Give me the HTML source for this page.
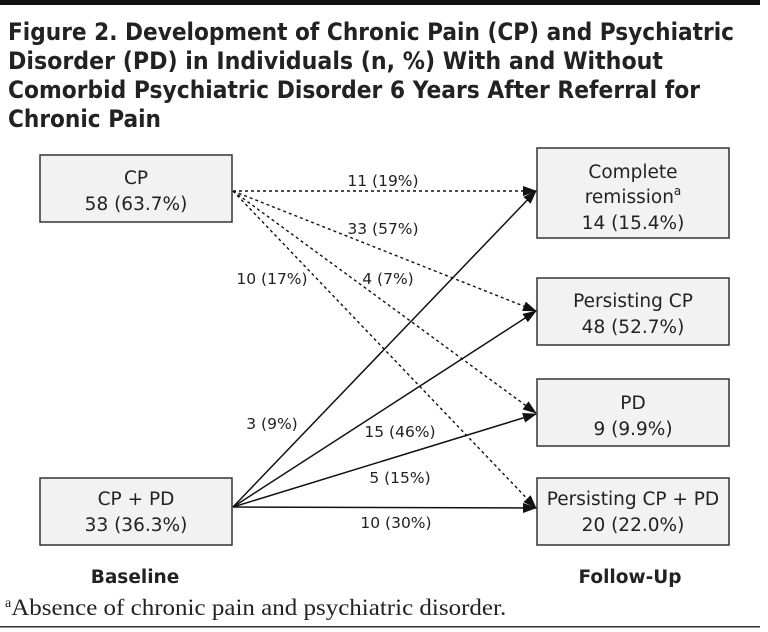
<!DOCTYPE html>
<html><head><style>
html,body{margin:0;padding:0;background:#fff;}
svg{display:block;}
</style></head><body>
<svg width="768" height="632" viewBox="0 0 768 632" xmlns="http://www.w3.org/2000/svg" font-family="'DejaVu Sans','Liberation Sans',sans-serif">
<defs>
<marker id="a" markerWidth="14" markerHeight="10" refX="13" refY="5" orient="auto" markerUnits="userSpaceOnUse">
<path d="M0,0 L14,5 L0,10 Z" fill="#111"/>
</marker>
</defs>
<rect x="0" y="0" width="760" height="5" fill="#111"/>
<g font-weight="bold" font-size="24" fill="#222">
<text x="8" y="40" textLength="726" lengthAdjust="spacingAndGlyphs">Figure 2. Development of Chronic Pain (CP) and Psychiatric</text>
<text x="8" y="69" textLength="655" lengthAdjust="spacingAndGlyphs">Disorder (PD) in Individuals (n, %) With and Without</text>
<text x="8" y="98" textLength="692" lengthAdjust="spacingAndGlyphs">Comorbid Psychiatric Disorder 6 Years After Referral for</text>
<text x="8" y="127" textLength="153" lengthAdjust="spacingAndGlyphs">Chronic Pain</text>
</g>
<g fill="#f2f2f2" stroke="#333" stroke-width="1.5">
<rect x="40" y="155" width="192" height="67"/>
<rect x="40" y="478" width="192" height="67"/>
<rect x="537" y="148" width="192" height="90"/>
<rect x="537" y="278" width="192" height="67"/>
<rect x="537" y="379" width="192" height="67"/>
<rect x="537" y="478" width="192" height="67"/>
</g>
<g stroke="#111" stroke-width="1.4" stroke-dasharray="3,3" fill="none" marker-end="url(#a)">
<line x1="233" y1="191" x2="536" y2="191"/>
<line x1="233" y1="191" x2="536" y2="311"/>
<line x1="233" y1="191" x2="536" y2="413"/>
<line x1="233" y1="191" x2="536" y2="508"/>
</g>
<g stroke="#111" stroke-width="1.5" fill="none" marker-end="url(#a)">
<line x1="233" y1="507" x2="536" y2="191"/>
<line x1="233" y1="507" x2="536" y2="311"/>
<line x1="233" y1="507" x2="536" y2="414"/>
<line x1="233" y1="507" x2="536" y2="508"/>
</g>
<g font-size="18.5" fill="#222" text-anchor="middle">
<text x="136" y="184">CP</text>
<text x="136" y="210">58 (63.7%)</text>
<text x="136" y="505">CP + PD</text>
<text x="136" y="531">33 (36.3%)</text>
<text x="633" y="178">Complete</text>
<text x="633" y="203">remission<tspan font-size="12" dy="-8">a</tspan></text>
<text x="633" y="229">14 (15.4%)</text>
<text x="633" y="307">Persisting CP</text>
<text x="633" y="333">48 (52.7%)</text>
<text x="633" y="409">PD</text>
<text x="633" y="435">9 (9.9%)</text>
<text x="633" y="505">Persisting CP + PD</text>
<text x="633" y="531">20 (22.0%)</text>
</g>
<g font-size="15.5" fill="#222" text-anchor="middle">
<text x="383" y="186">11 (19%)</text>
<text x="383" y="234">33 (57%)</text>
<text x="272" y="284">10 (17%)</text>
<text x="388" y="284">4 (7%)</text>
<text x="272" y="429">3 (9%)</text>
<text x="400" y="437">15 (46%)</text>
<text x="400" y="483">5 (15%)</text>
<text x="396" y="528">10 (30%)</text>
</g>
<g font-size="18.5" font-weight="bold" fill="#222" text-anchor="middle">
<text x="135" y="583">Baseline</text>
<text x="630" y="583">Follow-Up</text>
</g>
<text x="5" y="615" font-family="'Liberation Serif',serif" font-size="23" fill="#222"><tspan font-size="14" dy="-8">a</tspan><tspan dy="8" textLength="495" lengthAdjust="spacingAndGlyphs">Absence of chronic pain and psychiatric disorder.</tspan></text>
<rect x="0" y="626" width="760" height="1.5" fill="#333"/>
</svg>
</body></html>
